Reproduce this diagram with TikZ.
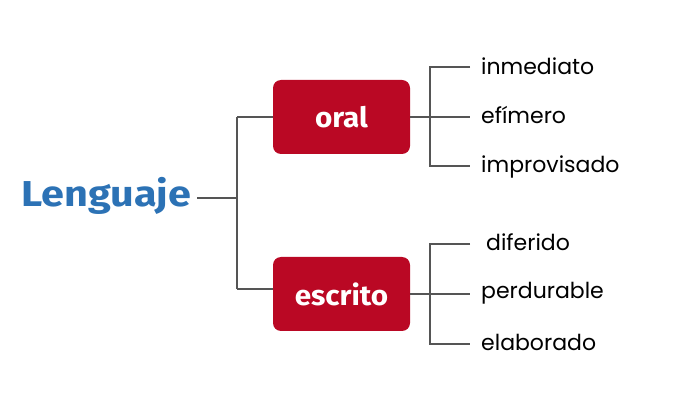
\documentclass[tikz,border=0pt]{standalone}
\usepackage{fontspec}
\setmainfont{Poppins}
\newfontfamily\boxfont[FakeStretch=1.06]{Fira Sans}
\newfontfamily\langfont[FakeStretch=1.15]{Fira Sans}
\definecolor{boxred}{HTML}{BA0824}
\definecolor{langblue}{HTML}{2C72B5}
\definecolor{linegray}{HTML}{555555}
\begin{document}
\begin{tikzpicture}[x=1pt,y=-1pt,
  conn/.style={draw=linegray,line width=1.1pt},
  catbox/.style={fill=boxred,rounded corners=8pt,minimum width=137pt,minimum height=74pt,inner sep=0pt,
    text=white,font=\boxfont\bfseries\fontsize{28}{32}\selectfont},
  leaf/.style={anchor=west,inner sep=0pt,font=\fontsize{22}{25}\selectfont,text=black}]
\useasboundingbox (0,0) rectangle (689,414);
\node[font=\langfont\bfseries\fontsize{36}{40}\selectfont,text=langblue,inner sep=0pt] (lang) at (106,196) {Lenguaje};
\coordinate (lr) at (197,198);
\coordinate (j) at (237,198);
\node[catbox] (oral) at (341.5,117) {oral};
\node[catbox] (escr) at (341.5,294) {escrito};
\coordinate (ja) at (237,117);
\coordinate (jb) at (237,289);
\coordinate (jbb) at (273,289);
\draw[conn] (lr) -- (j);
\draw[conn] (ja) -- (jb);
\draw[conn] (ja) -- (oral.west);
\draw[conn] (jb) -- (jbb);
% oral leaves
\node[leaf] (l1) at (481,66) {inmediato};
\node[leaf] (l2) at (481,115) {efímero};
\node[leaf] (l3) at (481,167) {improvisado};
\coordinate (ot) at (430,67);
\coordinate (ob) at (430,166);
\coordinate (ot2) at (470,67);
\coordinate (om2) at (470,117);
\coordinate (ob2) at (470,166);
\draw[conn] (ot2) -- (ot) -- (ob) -- (ob2);
\draw[conn] (oral.east) -- (om2);
% escrito leaves
\node[leaf] (m1) at (486,242) {diferido};
\node[leaf] (m2) at (481,293) {perdurable};
\node[leaf] (m3) at (481,342) {elaborado};
\coordinate (et) at (430,244);
\coordinate (eb) at (430,344);
\coordinate (et2) at (470,244);
\coordinate (em2) at (470,294);
\coordinate (eb2) at (470,344);
\draw[conn] (et2) -- (et) -- (eb) -- (eb2);
\draw[conn] (escr.east) -- (em2);
\end{tikzpicture}
\end{document}
